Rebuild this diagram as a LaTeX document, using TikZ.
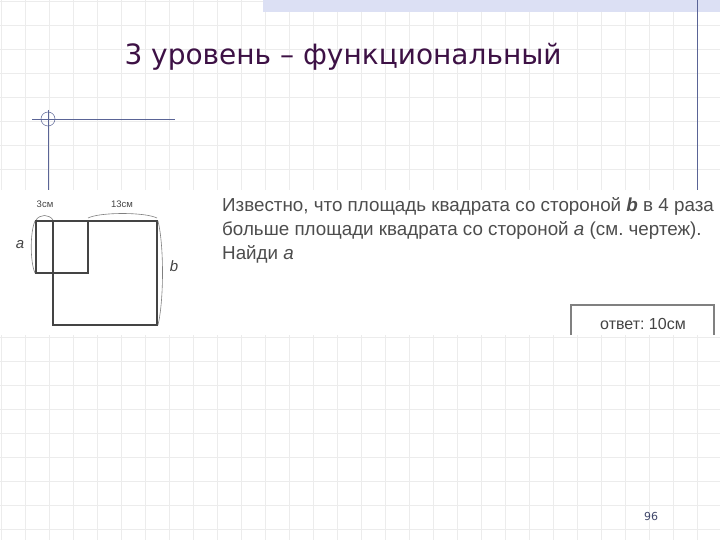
\documentclass[tikz,border=0pt]{standalone}
\usepackage{fontspec}
\usepackage{xcolor}
\usetikzlibrary{positioning, calc}
\newfontfamily\titlefont{DejaVu Sans}
\newfontfamily\taskfont{Liberation Sans}
\definecolor{titlepurple}{HTML}{3D1145}
\definecolor{gridgray}{HTML}{ECECEC}
\definecolor{bandblue}{HTML}{DCE0F4}
\definecolor{rulerblue}{HTML}{5A6496}
\definecolor{taskgray}{HTML}{4D4D4D}
\definecolor{figgray}{HTML}{444444}
\tikzset{
  gridline/.style={draw=gridgray, line width=0.8pt},
  ruler/.style={draw=rulerblue, line width=0.8pt},
  figline/.style={draw=figgray, line width=1.8pt},
  brace/.style={draw=gray, line width=0.6pt},
  figlabel/.style={text=figgray, font=\taskfont\fontsize{9.5}{10}\selectfont},
  varlabel/.style={text=figgray, font=\taskfont\itshape\fontsize{15}{16}\selectfont}
}
\begin{document}
\frenchspacing
\begin{tikzpicture}[x=1pt, y=-1pt]
		\useasboundingbox (0,0) rectangle (720,540);
		\fill[white] (0,0) rectangle (720,540);
		\foreach \gx in {1,25,...,697}
			\draw[gridline] (\gx,0) -- (\gx,540);
		\foreach \gy in {1,25,...,529}
			\draw[gridline] (0,\gy) -- (720,\gy);
		\fill[bandblue] (263,0) rectangle (720,12);
		\draw[ruler] (697,0) -- (697,190);
		\draw[ruler] (32,119) -- (175,119);
		\draw[ruler] (48,110) -- (48,190);
		\draw[ruler, line width=0.5pt] (48,119) circle (7);

		\node[text=titlepurple, font=\titlefont\fontsize{28}{30}\selectfont, anchor=west] (title) at (121,57) {3 уровень – функциональный};

		\fill[white] (0,190) rectangle (720,335);

		\coordinate (sa1) at (36,221);
		\coordinate (sa2) at (88,273);
		\coordinate (sb1) at (53,221);
		\coordinate (sb2) at (157,325);
		\draw[figline] (sa1) rectangle (sa2);
		\draw[figline] (sb1) rectangle (sb2);
		\draw[brace] (36,220) .. controls (40,214) and (49,214) .. (53,220);
		\draw[brace] (88,218) .. controls (100,212) and (145,212) .. (157,218);
		\draw[brace] (35,221) .. controls (30,232) and (30,262) .. (35,273);
		\draw[brace] (158,221) .. controls (164,245) and (164,300) .. (158,325);
		\node[figlabel] (three) at (45,204) {3см};
		\node[figlabel] (thirteen) at (122,204) {13см};
		\node[varlabel] (sidea) at (20,245) {a};
		\node[varlabel] (sideb) at (174,266) {b};

		\node[text=taskgray, font=\taskfont\fontsize{18.8}{24}\selectfont, anchor=north west, align=left, inner sep=0pt] (task) at (222,197) {Известно, что площадь квадрата со стороной \textbf{\textit{b}} в 4 раза\\больше площади квадрата со стороной \textit{a} (см. чертеж).\\Найди \textit{a}};

		\node[text=figgray, font=\taskfont\fontsize{16}{18}\selectfont] (answer) at (643,324) {ответ: 10см};
		\draw[draw=gray, line width=1.5pt] (571,335) -- (571,305) -- (714,305) -- (714,335);

		\node[text=rulerblue!70!black, font=\titlefont\fontsize{11}{12}\selectfont] (pagenum) at (651,516) {96};
	\end{tikzpicture}
\end{document}
